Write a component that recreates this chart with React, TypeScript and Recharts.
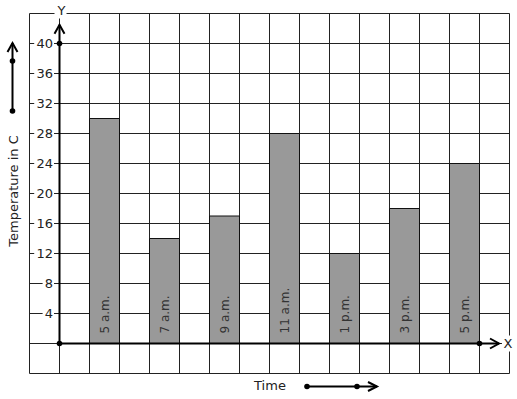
import React from 'react';
import {
  ComposedChart,
  Bar,
  XAxis,
  YAxis,
  CartesianGrid,
  ReferenceLine,
  ReferenceDot,
  LabelList
} from 'recharts';

// 時刻ラベルと気温
const times = ['5 a.m.', '7 a.m.', '9 a.m.', '11 a.m.', '1 p.m.', '3 p.m.', '5 p.m.'];
const temps = [30, 14, 17, 28, 12, 18, 24];
// 各棒の中心位置（グリッド1マス = 1単位、Y軸が0）
const slots = [1.5, 3.5, 5.5, 7.5, 9.5, 11.5, 13.5];

const xGridTicks = [-1, 0, 1, 2, 3, 4, 5, 6, 7, 8, 9, 10, 11, 12, 13, 14, 15];
const yGridTicks = [-4, 0, 4, 8, 12, 16, 20, 24, 28, 32, 36, 40, 44];
const yLabelTicks = [4, 8, 12, 16, 20, 24, 28, 32, 36, 40];

const chartData = times.map((t, i) => ({ x: slots[i], temp: temps[i], label: t }));

const FONT = 'DejaVu Sans';

const renderYTick = (props: any) => {
  const { x, y, payload } = props;
  if (!yLabelTicks.includes(payload.value)) return <g />;
  const text = String(payload.value);
  const w = text.length * 8.4 + 2;
  const right = x + 23.5;
  return (
    <g>
      <rect x={right - w} y={y - 7} width={w + 1} height={14} fill="#fff" />
      <text x={right} y={y} textAnchor="end" dominantBaseline="central"
        fontFamily={FONT} fontSize={13} fill="#222">{text}</text>
    </g>
  );
};

const renderNoTick = () => <g />;

const BarLabel = ({ x, y, width, height, value }: any) => {
  const cx = x + width / 2;
  const by = y + height - 10;
  return (
    <text x={cx} y={by} transform={`rotate(-90 ${cx} ${by})`} textAnchor="start"
      dominantBaseline="central" fontFamily={FONT} fontSize={12} fill="#333">{value}</text>
  );
};

// 軸の矢印
const UpArrow = ({ cx, cy }: any) => (
  <g>
    <polyline points={`${cx - 5},${cy + 9} ${cx},${cy} ${cx + 5},${cy + 9}`}
      fill="none" stroke="#000" strokeWidth={2} />
  </g>
);

const RightArrow = ({ cx, cy }: any) => (
  <g>
    <polyline points={`${cx - 9},${cy - 5} ${cx},${cy} ${cx - 9},${cy + 5}`}
      fill="none" stroke="#000" strokeWidth={2} />
    <rect x={cx + 3} y={cy - 8} width={11} height={16} fill="#fff" />
    <text x={cx + 9} y={cy} textAnchor="middle" dominantBaseline="central"
      fontFamily={FONT} fontSize={13} fill="#222">X</text>
  </g>
);

const YName = ({ cx, cy }: any) => (
  <g>
    <rect x={cx - 5} y={cy - 9} width={12} height={14} fill="#fff" />
    <text x={cx + 2} y={cy - 3} textAnchor="middle" dominantBaseline="central"
      fontFamily={FONT} fontSize={13} fill="#222">Y</text>
  </g>
);

const Dot = ({ cx, cy }: any) => <circle cx={cx} cy={cy} r={2.8} fill="#000" />;

export default function App() {
  return (
    <div style={{ position: 'absolute', left: 0, top: 0, width: 517, height: 399, background: '#fff' }}>
      <ComposedChart
        width={517}
        height={399}
        data={chartData}
        margin={{ top: 13.5, right: 7.5, bottom: 24.5, left: 28.5 }}
      >
        <CartesianGrid stroke="#222" strokeWidth={1} />
        <XAxis
          type="number"
          dataKey="x"
          domain={[-1, 15]}
          ticks={xGridTicks}
          interval={0}
          height={1}
          tick={renderNoTick}
          tickLine={false}
          axisLine={false}
          allowDataOverflow
        />
        <YAxis
          type="number"
          domain={[-4, 44]}
          ticks={yGridTicks}
          width={1}
          tickSize={0}
          tickMargin={0}
          axisLine={false}
          tickLine={false}
          tick={renderYTick}
          interval={0}
          allowDataOverflow
        />
        <Bar dataKey="temp" barSize={30} fill="#999" stroke="#111" strokeWidth={1} isAnimationActive={false}>
          <LabelList dataKey="label" content={<BarLabel />} />
        </Bar>
        <ReferenceLine segment={[{ x: 0, y: 0 }, { x: 0, y: 42.5 }]} stroke="#000" strokeWidth={2} ifOverflow="visible" />
        <ReferenceLine segment={[{ x: 0, y: 0 }, { x: 14.65, y: 0 }]} stroke="#000" strokeWidth={2} ifOverflow="visible" />
        <ReferenceDot x={0} y={42.5} shape={<UpArrow />} ifOverflow="visible" />
        <ReferenceDot x={14.65} y={0} shape={<RightArrow />} ifOverflow="visible" />
        <ReferenceDot x={0} y={44} shape={<YName />} ifOverflow="visible" />
        <ReferenceDot x={0} y={0} shape={<Dot />} ifOverflow="visible" />
        <ReferenceDot x={0} y={40} shape={<Dot />} ifOverflow="visible" />
        <ReferenceDot x={14} y={0} shape={<Dot />} ifOverflow="visible" />
      </ComposedChart>
      {/* 軸名と方向を示す矢印 */}
      <svg width={517} height={399} style={{ position: 'absolute', left: 0, top: 0, pointerEvents: 'none' }}>
        <text x={13} y={191} transform="rotate(-90 13 191)" textAnchor="middle" dominantBaseline="central"
          fontFamily={FONT} fontSize={13} fill="#222">Temperature in C</text>
        <line x1={12.5} y1={111} x2={12.5} y2={43} stroke="#000" strokeWidth={2} />
        <polyline points="7.5,52 12.5,43 17.5,52" fill="none" stroke="#000" strokeWidth={2} />
        <circle cx={12.5} cy={61} r={2.8} fill="#000" />
        <circle cx={12.5} cy={111} r={2.8} fill="#000" />
        <text x={270} y={385} textAnchor="middle" dominantBaseline="central"
          fontFamily={FONT} fontSize={13} fill="#222">Time</text>
        <line x1={307} y1={386.5} x2={377} y2={386.5} stroke="#000" strokeWidth={2} />
        <polyline points="368,382 377,386.5 368,391" fill="none" stroke="#000" strokeWidth={2} />
        <circle cx={307} cy={386.5} r={2.8} fill="#000" />
        <circle cx={357} cy={386.5} r={2.8} fill="#000" />
      </svg>
    </div>
  );
}
